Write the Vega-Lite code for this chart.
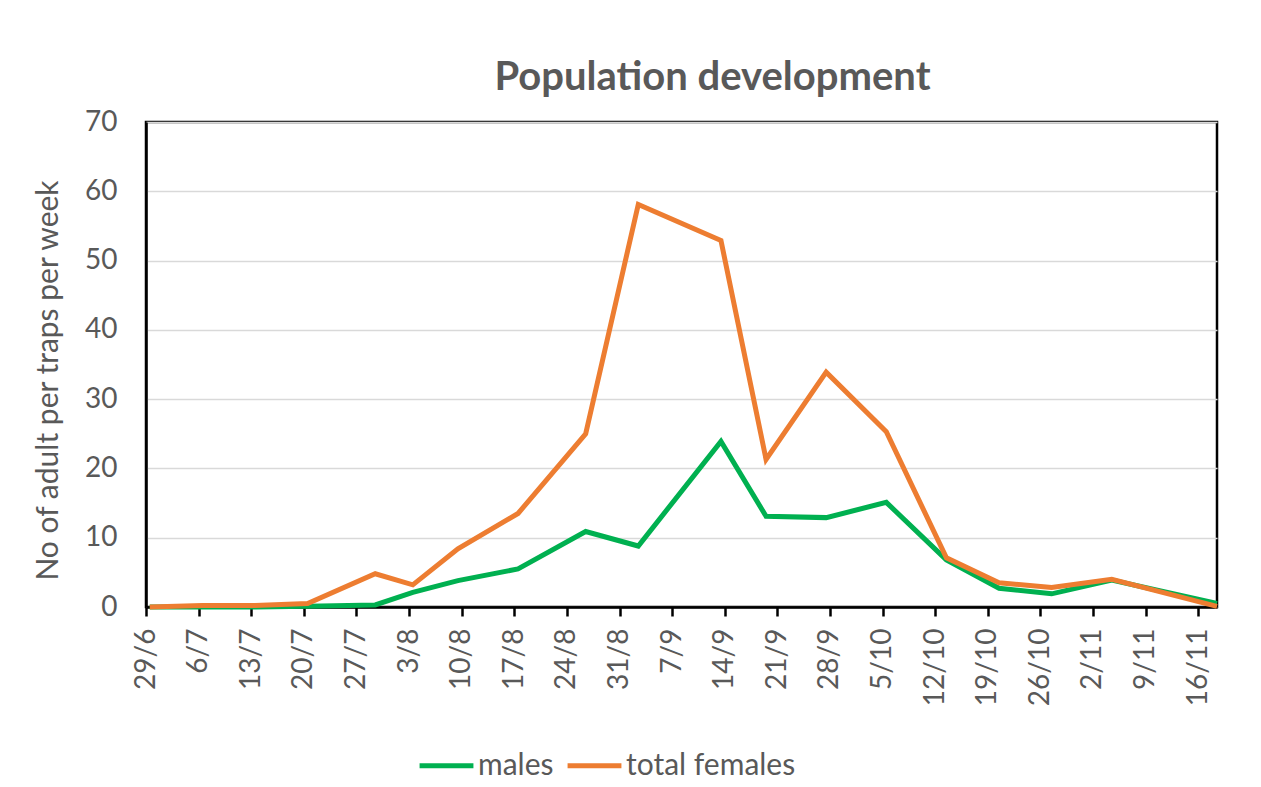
{
  "$schema": "https://vega.github.io/schema/vega-lite/v6.json",
  "width": 1071,
  "height": 485,
  "autosize": {"type": "none"},
  "padding": {"left": 146, "top": 122, "right": 44, "bottom": 180},
  "background": "white",
  "title": {
    "text": "Population development",
    "font": "Lato",
    "fontSize": 40,
    "fontWeight": "bold",
    "color": "#595959",
    "anchor": "middle",
    "frame": "group",
    "baseline": "alphabetic",
    "offset": 31,
    "dx": 31,
    "dy": 53
  },
  "config": {
    "view": {"stroke": "black", "strokeWidth": 2.5},
    "font": "Lato"
  },
  "data": {
    "values": [
      {"date": "2014-06-29", "series": "males", "value": 0},
      {"date": "2014-07-06", "series": "males", "value": 0},
      {"date": "2014-07-13", "series": "males", "value": 0},
      {"date": "2014-07-20", "series": "males", "value": 0.1},
      {"date": "2014-07-29", "series": "males", "value": 0.3},
      {"date": "2014-08-03", "series": "males", "value": 2.1},
      {"date": "2014-08-09", "series": "males", "value": 3.8},
      {"date": "2014-08-17", "series": "males", "value": 5.5},
      {"date": "2014-08-26", "series": "males", "value": 10.9},
      {"date": "2014-09-02", "series": "males", "value": 8.8},
      {"date": "2014-09-13", "series": "males", "value": 23.9},
      {"date": "2014-09-19", "series": "males", "value": 13.1},
      {"date": "2014-09-27", "series": "males", "value": 12.9},
      {"date": "2014-10-05", "series": "males", "value": 15.1},
      {"date": "2014-10-13", "series": "males", "value": 6.8},
      {"date": "2014-10-20", "series": "males", "value": 2.7},
      {"date": "2014-10-27", "series": "males", "value": 1.9},
      {"date": "2014-11-04", "series": "males", "value": 3.9},
      {"date": "2014-11-18", "series": "males", "value": 0.5},
      {"date": "2014-06-29", "series": "total females", "value": 0},
      {"date": "2014-07-06", "series": "total females", "value": 0.2},
      {"date": "2014-07-13", "series": "total females", "value": 0.2},
      {"date": "2014-07-20", "series": "total females", "value": 0.5},
      {"date": "2014-07-29", "series": "total females", "value": 4.8},
      {"date": "2014-08-03", "series": "total females", "value": 3.2},
      {"date": "2014-08-09", "series": "total females", "value": 8.4},
      {"date": "2014-08-17", "series": "total females", "value": 13.5},
      {"date": "2014-08-26", "series": "total females", "value": 25.0},
      {"date": "2014-09-02", "series": "total females", "value": 58.1},
      {"date": "2014-09-13", "series": "total females", "value": 52.9},
      {"date": "2014-09-19", "series": "total females", "value": 21.3},
      {"date": "2014-09-27", "series": "total females", "value": 33.9},
      {"date": "2014-10-05", "series": "total females", "value": 25.3},
      {"date": "2014-10-13", "series": "total females", "value": 7.1},
      {"date": "2014-10-20", "series": "total females", "value": 3.5},
      {"date": "2014-10-27", "series": "total females", "value": 2.8},
      {"date": "2014-11-04", "series": "total females", "value": 4.0},
      {"date": "2014-11-18", "series": "total females", "value": 0.1}
    ]
  },
  "mark": {"type": "line", "strokeWidth": 5, "strokeJoin": "miter", "strokeCap": "butt"},
  "encoding": {
    "x": {
      "field": "date",
      "type": "temporal",
      "scale": {
        "type": "utc",
        "nice": false,
        "domain": [
          {"year": 2014, "month": 6, "date": 28, "hours": 12, "utc": true},
          {"year": 2014, "month": 11, "date": 18, "utc": true}
        ]
      },
      "axis": {
        "title": null,
        "labelExpr": "utcFormat(datum.value, '%-d/%-m')",
        "tickCount": {"interval": "week", "step": 1},
        "tickOffset": -3.75,
        "grid": false,
        "domainColor": "black",
        "domainWidth": 2.5,
        "tickColor": "black",
        "tickWidth": 2.5,
        "tickSize": 9,
        "labelAngle": -90,
        "labelAlign": "right",
        "labelBaseline": "middle",
        "labelPadding": 12,
        "labelFont": "Lato",
        "labelFontSize": 28,
        "labelColor": "#595959",
        "labelOverlap": false,
        "labelFlush": false
      }
    },
    "y": {
      "field": "value",
      "type": "quantitative",
      "scale": {"domain": [0, 70], "nice": false},
      "axis": {
        "title": "No of adult per traps per week",
        "titleFont": "Lato",
        "titleFontSize": 30,
        "titleFontWeight": "normal",
        "titleColor": "#595959",
        "titleAngle": -90,
        "titleAlign": "center",
        "titleBaseline": "alphabetic",
        "titleX": -89,
        "titleY": 258,
        "values": [0, 10, 20, 30, 40, 50, 60, 70],
        "ticks": false,
        "tickSize": 0,
        "labelPadding": 29,
        "labelFont": "Lato",
        "labelFontSize": 28,
        "labelColor": "#595959",
        "domainColor": "black",
        "domainWidth": 2.5,
        "gridColor": "#d9d9d9",
        "gridWidth": 1.5
      }
    },
    "color": {
      "field": "series",
      "type": "nominal",
      "scale": {"domain": ["males", "total females"], "range": ["#00B050", "#ED7D31"]},
      "legend": {
        "title": null,
        "orient": "none",
        "direction": "horizontal",
        "legendX": 271,
        "legendY": 614,
        "symbolType": "stroke",
        "symbolSize": 2900,
        "symbolStrokeWidth": 5,
        "labelFont": "Lato",
        "labelFontSize": 30,
        "labelColor": "#595959",
        "labelOffset": 2,
        "columnPadding": 3,
        "labelLimit": 400
      }
    }
  }
}
